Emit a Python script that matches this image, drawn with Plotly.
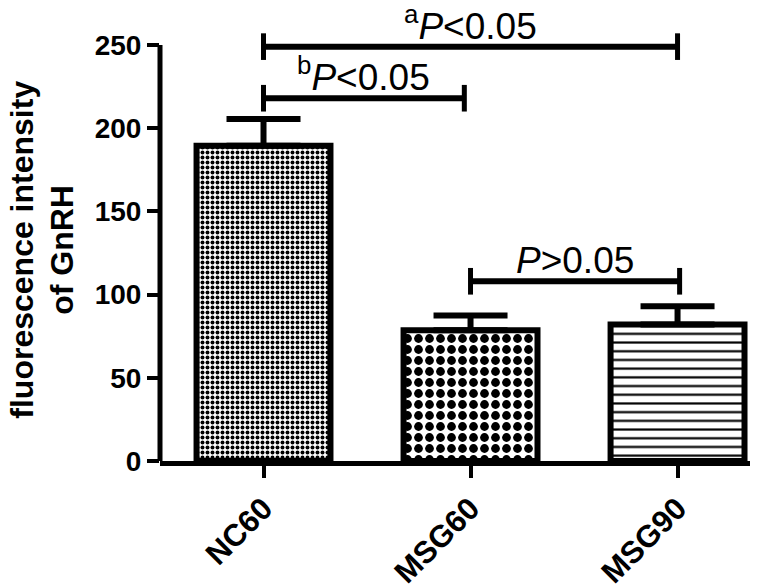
import plotly.graph_objects as go

# ---- data ----
categories = ["NC60", "MSG60", "MSG90"]
means = [189.5, 78.5, 82.0]
errors = [16.0, 9.0, 11.0]
y_ticks = [0, 50, 100, 150, 200, 250]
y_title_lines = ["fluorescence intensity", "of GnRH"]

# significance brackets: start group, end group, height, label
sig_start = [0, 0, 1]
sig_end = [2, 0.97, 2.01]
sig_height = [249, 218, 108]
sig_labels = ["<sup>a</sup><i>P</i>&lt;0.05",
              "<sup>b</sup><i>P</i>&lt;0.05",
              "<i>P</i>&gt;0.05"]

# ---- styles ----
pattern_shapes = [".", ".", "-"]
pattern_sizes = [5, 11, 8.7]
pattern_solidity = [0.5, 0.5, 0.25]
FONT = "Liberation Sans, Arial, sans-serif"
title_x_paper = [-0.234, -0.166]

x_pos = list(range(len(categories)))

fig = go.Figure()
fig.add_trace(go.Bar(
    x=x_pos, y=means, width=0.647,
    marker=dict(
        color="white",
        line=dict(color="black", width=6),
        pattern=dict(shape=pattern_shapes, size=pattern_sizes,
                     solidity=pattern_solidity, fgcolor="black",
                     fgopacity=1),
    ),
    error_y=dict(type="data", array=errors, arrayminus=[0] * len(errors),
                 symmetric=False, thickness=6, width=37, color="black"),
    showlegend=False,
))

shapes = []
# y axis line (stops at top tick)
shapes.append(dict(type="line", xref="paper", yref="y", x0=0, x1=0,
                   y0=y_ticks[0], y1=y_ticks[-1],
                   line=dict(color="black", width=5)))
tick_half = 8
annotations = []
for xs, xe, h, lab in zip(sig_start, sig_end, sig_height, sig_labels):
    shapes.append(dict(type="line", xref="x", yref="y", x0=xs, x1=xe, y0=h, y1=h,
                       line=dict(color="black", width=6)))
    for xe_ in (xs, xe):
        shapes.append(dict(type="line", xref="x", yref="y", x0=xe_, x1=xe_,
                           y0=h - tick_half, y1=h + tick_half,
                           line=dict(color="black", width=5)))
    annotations.append(dict(x=(xs + xe) / 2, y=h, xref="x", yref="y",
                            text=lab, showarrow=False, yanchor="bottom",
                            yshift=-2,
                            font=dict(family=FONT, size=37, color="black")))

# y-axis title, two lines
for line_text, xp in zip(y_title_lines, title_x_paper):
    annotations.append(dict(x=xp, y=0.4845, xref="paper", yref="paper",
                            text=line_text, textangle=-90, showarrow=False,
                            xanchor="center", yanchor="middle",
                            font=dict(family=FONT, size=32, color="black",
                                      weight="bold")))

fig.update_layout(
    width=784, height=584,
    margin=dict(l=160, r=34, t=25, b=122.5, pad=0),
    paper_bgcolor="white", plot_bgcolor="white",
    shapes=shapes, annotations=annotations,
    xaxis=dict(range=[-0.5, 2.35], tickvals=x_pos, ticktext=categories,
               tickangle=-45, ticks="outside", ticklen=12, tickwidth=4,
               tickcolor="black", showline=True, linewidth=5, linecolor="black",
               showgrid=False, zeroline=False, automargin=False,
               tickfont=dict(family=FONT, size=31, color="black", weight="bold")),
    yaxis=dict(range=[0, 262], tickvals=y_ticks, ticks="outside", ticklen=12,
               tickwidth=4, tickcolor="black", showline=False, showgrid=False,
               zeroline=False, automargin=False,
               tickfont=dict(family=FONT, size=28, color="black", weight="bold")),
)

fig.write_html("out.html", config={"displayModeBar": False},
               post_script="document.body.style.margin='0px';"
                           "document.body.style.overflow='hidden';")
